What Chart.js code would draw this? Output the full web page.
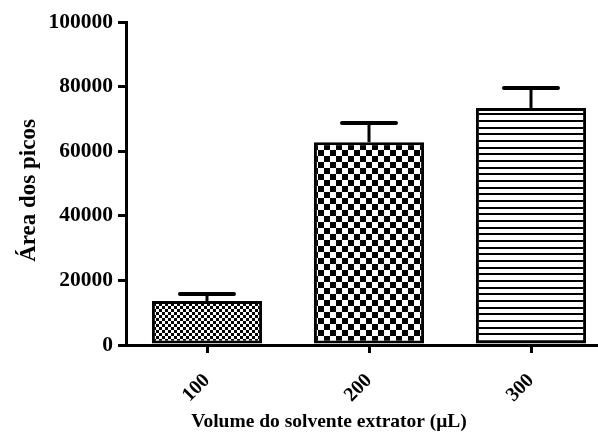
<!DOCTYPE html>
<html><head><meta charset="utf-8">
<script src="https://cdn.jsdelivr.net/npm/chart.js@4/dist/chart.umd.min.js"></script>
<style>
html,body{margin:0;padding:0;overflow:hidden;background:#fff;width:598px;height:434px}
#wrap{position:absolute;left:0;top:0;width:612px;height:434px}
</style>
</head><body><div id="wrap"><canvas id="c" width="612" height="434"></canvas></div>
<script>
const categories = ['100', '200', '300'];
const means = [13600, 62800, 73400];
const errors = [2200, 5900, 6200];
const yTickValues = [0, 20000, 40000, 60000, 80000, 100000];
const xTitle = 'Volume do solvente extrator (μL)';
const yTitle = 'Área dos picos';

function makePattern(kind) {
  const c = document.createElement('canvas');
  const g = c.getContext('2d');
  if (kind === 'fine') {
    c.width = 6; c.height = 6;
    g.fillStyle = '#fff'; g.fillRect(0, 0, 6, 6);
    g.fillStyle = '#000'; g.fillRect(0, 0, 3, 3); g.fillRect(3, 3, 3, 3);
  } else if (kind === 'coarse') {
    c.width = 12; c.height = 12;
    g.fillStyle = '#fff'; g.fillRect(0, 0, 12, 12);
    g.fillStyle = '#000'; g.fillRect(0, 0, 6, 6); g.fillRect(6, 6, 6, 6);
  } else {
    c.width = 4; c.height = 20;
    g.fillStyle = '#fff'; g.fillRect(0, 0, 4, 20);
    g.fillStyle = '#000'; g.fillRect(0, 0, 4, 2); g.fillRect(0, 7, 4, 2); g.fillRect(0, 13, 4, 2);
  }
  return g.createPattern(c, 'repeat');
}
const ctx0 = document.getElementById('c').getContext('2d');
const fills = [makePattern('fine'), makePattern('coarse'), makePattern('stripes')];

const errorBars = {
  id: 'errorBars',
  afterDatasetsDraw(chart) {
    const ctx = chart.ctx, meta = chart.getDatasetMeta(0), y = chart.scales.y;
    ctx.save();
    ctx.strokeStyle = '#000';
    meta.data.forEach((bar, i) => {
      const x = bar.x;
      const top = y.getPixelForValue(means[i]);
      const hi = y.getPixelForValue(means[i] + errors[i]);
      const half = bar.width * 0.245;
      ctx.lineWidth = 3; ctx.lineCap = 'butt';
      ctx.beginPath(); ctx.moveTo(x, top); ctx.lineTo(x, hi); ctx.stroke();
      ctx.lineWidth = 4; ctx.lineCap = 'round';
      ctx.beginPath(); ctx.moveTo(x - half, hi); ctx.lineTo(x + half, hi); ctx.stroke();
    });
    ctx.restore();
  }
};
const titles = {
  id: 'titles',
  afterDraw(chart) {
    const ctx = chart.ctx;
    ctx.save();
    ctx.fillStyle = '#000';
    ctx.textAlign = 'center';
    ctx.textBaseline = 'alphabetic';
    ctx.font = 'bold 19.5px "Liberation Serif"';
    ctx.fillText(xTitle, 329, 427);
    ctx.translate(35, 190.5);
    ctx.rotate(-Math.PI / 2);
    ctx.font = 'bold 23px "Liberation Serif"';
    ctx.fillText(yTitle, 0, 0);
    ctx.restore();
  }
};

new Chart(ctx0, {
  type: 'bar',
  data: {
    labels: categories,
    datasets: [{
      data: means,
      backgroundColor: fills,
      borderColor: '#000',
      borderWidth: 3,
      borderSkipped: false,
      barPercentage: 0.68,
      categoryPercentage: 1
    }]
  },
  options: {
    responsive: false,
    animation: false,
    devicePixelRatio: 1,
    layout: { padding: { top: 22, left: 0, right: 0, bottom: 0 } },
    plugins: { legend: { display: false }, tooltip: { enabled: false } },
    scales: {
      x: {
        offset: true,
        grid: { display: true, drawOnChartArea: false, drawTicks: true, tickLength: 8, color: '#000', lineWidth: 3, offset: false },
        border: { display: true, color: '#000', width: 3 },
        ticks: { color: '#000', font: { family: 'Liberation Serif', weight: 'bold', size: 20 }, minRotation: 45, maxRotation: 45, padding: 16 },
        afterFit(s) { s.height = 89; }
      },
      y: {
        min: 0, max: 100000,
        afterBuildTicks(s) { s.ticks = yTickValues.map(v => ({ value: v })); },
        grid: { display: true, drawOnChartArea: false, drawTicks: true, tickLength: 8, color: '#000', lineWidth: 3 },
        border: { display: true, color: '#000', width: 3 },
        ticks: { color: '#000', font: { family: 'Liberation Serif', weight: 'bold', size: 21.5 }, padding: 5, callback: v => String(v) },
        afterFit(s) { s.width = 126; }
      }
    }
  },
  plugins: [errorBars, titles]
});
</script>
</body></html>
